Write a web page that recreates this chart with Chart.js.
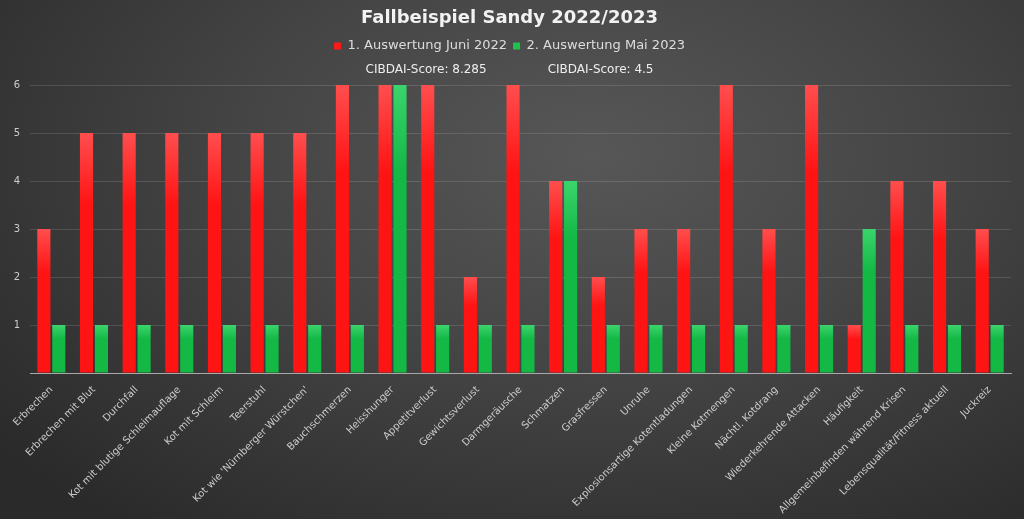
<!DOCTYPE html>
<html>
<head>
<meta charset="utf-8">
<script src="https://cdn.jsdelivr.net/npm/chart.js@4.4.0/dist/chart.umd.min.js"></script>
<style>
    html, body {
        margin: 0;
        padding: 0;
        width: 1024px;
        height: 519px;
        overflow: hidden;
        background: radial-gradient(ellipse 75% 90% at 58% 30%, #575757 0%, #454545 45%, #2a2a2a 100%);
    }
    #wrap { width: 1024px; height: 519px; }
</style>
</head>
<body>
<div id="wrap"><canvas id="bar-chart"></canvas></div>
<script>
// Kategorien (Symptome)
const categories = [
    'Erbrechen', 'Erbrechen mit Blut', 'Durchfall', 'Kot mit blutige Schleimauflage',
    'Kot mit Schleim', 'Teerstuhl', "Kot wie 'Nürnberger Würstchen'", 'Bauchschmerzen',
    'Heisshunger', 'Appetitverlust', 'Gewichtsverlust', 'Darmgeräusche', 'Schmatzen',
    'Grasfressen', 'Unruhe', 'Explosionsartige Kotentladungen', 'Kleine Kotmengen',
    'Nächtl. Kotdrang', 'Wiederkehrende Attacken', 'Häufigkeit',
    'Allgemeinbefinden während Krisen', 'Lebensqualität/Fitness aktuell', 'Juckreiz'
];
const juni2022 = [3, 5, 5, 5, 5, 5, 5, 6, 6, 6, 2, 6, 4, 2, 3, 3, 6, 3, 6, 1, 4, 4, 3];
const mai2023  = [1, 1, 1, 1, 1, 1, 1, 1, 6, 1, 1, 1, 4, 1, 1, 1, 1, 1, 1, 3, 1, 1, 1];
const seriesLabels = ['1. Auswertung Juni 2022', '2. Auswertung Mai 2023'];
const scoreText = 'CIBDAI-Score: 8.285                CIBDAI-Score: 4.5';
const yTicks = [0, 1, 2, 3, 4, 5, 6];

const FONT = "'DejaVu Sans', sans-serif";

// Balken mit leichtem Verlauf von oben (heller) nach unten
function barFill(light, dark) {
    return function(ctx) {
        const chart = ctx.chart;
        if (!chart.chartArea || ctx.raw === undefined) return dark;
        const y = chart.scales.y;
        const top = y.getPixelForValue(ctx.raw);
        const base = y.getPixelForValue(0);
        if (!isFinite(top) || top === base) return dark;
        const g = chart.ctx.createLinearGradient(0, top, 0, base);
        g.addColorStop(0, light);
        g.addColorStop(0.3, dark);
        g.addColorStop(1, dark);
        return g;
    };
}

const config = {
    type: 'bar',
    data: {
        labels: categories,
        datasets: [{
            label: seriesLabels[0],
            data: juni2022,
            backgroundColor: barFill('#ff4e4e', '#ff1414'),
            borderWidth: 0,
            barPercentage: 0.88,
            categoryPercentage: 0.7
        }, {
            label: seriesLabels[1],
            data: mai2023,
            backgroundColor: barFill('#3bd46c', '#13b845'),
            borderWidth: 0,
            barPercentage: 0.88,
            categoryPercentage: 0.7
        }]
    },
    options: {
        responsive: false,
        animation: false,
        layout: { padding: { left: 8, right: 13, top: 8, bottom: 0 } },
        plugins: {
            title: {
                display: true,
                text: 'Fallbeispiel Sandy 2022/2023',
                color: '#f2f2f2',
                font: { family: FONT, size: 18, weight: 'bold' },
                padding: { top: 0, bottom: 4 }
            },
            legend: {
                display: true,
                labels: {
                    color: '#dddddd',
                    font: { family: FONT, size: 13 },
                    boxWidth: 7,
                    boxHeight: 7,
                    padding: 6,
                    generateLabels: function(chart) {
                        return seriesLabels.map(function(t, i) {
                            return {
                                text: t,
                                fillStyle: i === 0 ? '#ff1a1a' : '#1fc24a',
                                strokeStyle: 'transparent',
                                lineWidth: 0,
                                datasetIndex: i,
                                fontColor: '#dddddd'
                            };
                        });
                    }
                }
            },
            subtitle: {
                display: true,
                text: scoreText,
                color: '#eeeeee',
                weight: 500,
                font: { family: FONT, size: 12 },
                padding: { top: 0, bottom: 8 }
            },
            tooltip: { enabled: false }
        },
        scales: {
            x: {
                grid: { display: false },
                border: { color: '#a8a8a8', width: 1 },
                ticks: {
                    color: '#cccccc',
                    autoSkip: false,
                    maxRotation: 45,
                    minRotation: 45,
                    font: { family: FONT, size: 10 }
                },
                afterFit: function(scale) { scale.height = 146; }
            },
            y: {
                min: 0,
                max: 6,
                afterBuildTicks: function(scale) {
                    scale.ticks = yTicks.map(function(v) { return { value: v }; });
                },
                grid: { color: 'rgba(255,255,255,0.13)', drawTicks: false },
                border: { display: false },
                ticks: {
                    color: '#cccccc',
                    padding: 10,
                    font: { family: FONT, size: 10 },
                    callback: function(v) { return v === 0 ? '' : v; }
                },
                afterFit: function(scale) { scale.width = 22; }
            }
        }
    }
};

window.onload = function() {
    const canvas = document.getElementById('bar-chart');
    canvas.width = 1024;
    canvas.height = 519;
    let ctx = canvas.getContext('2d');
    window.myBar = new Chart(ctx, config);
};
</script>
</body>
</html>
